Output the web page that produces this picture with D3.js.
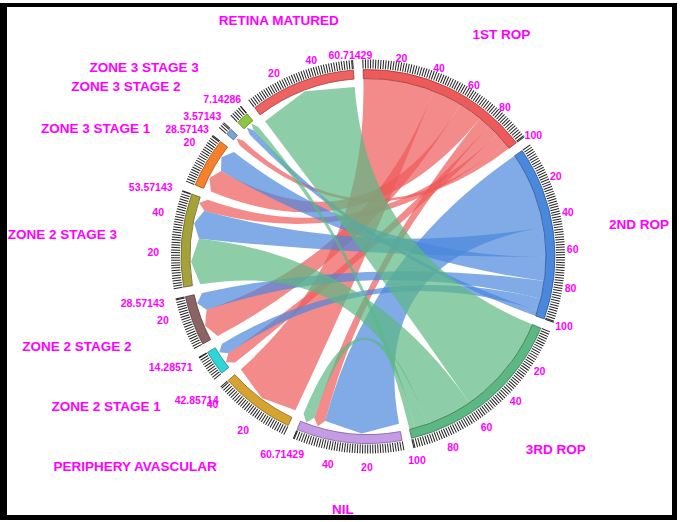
<!DOCTYPE html>
<html>
<head>
<meta charset="utf-8">
<script src="https://cdn.jsdelivr.net/npm/d3@7"></script>
<style>
  body { margin: 0; background: #fff; }
  svg text { font-family: "Liberation Sans", Arial, sans-serif; font-weight: bold; fill: #ff00ff; }
</style>
</head>
<body>
<svg id="chart" width="680" height="522"></svg>
<script>
// groups, clockwise from the top
var groupNames = ["1ST ROP", "2ND ROP", "3RD ROP", "NIL", "PERIPHERY AVASCULAR", "ZONE 2 STAGE 1",
  "ZONE 2 STAGE 2", "ZONE 2 STAGE 3", "ZONE 3 STAGE 1", "ZONE 3 STAGE 2", "ZONE 3 STAGE 3", "RETINA MATURED"];
var groupColors = ["#ee5a5a", "#4a88dd", "#5cb883", "#c59be6", "#d4a330", "#30d5d8",
  "#8b6363", "#a5a23a", "#f7812b", "#7ba3d4", "#8dc640", "#ef6262"];

// % of eyes per finding at each ROP visit
// order: NIL, PA, Z2S1, Z2S2, Z2S3, Z3S1, Z3S2, Z3S3, RETINA MATURED
var rop1 = [7.1428571, 42.8571429, 7.1428571, 17.8571429, 7.1428571, 14.2857143, 3.5714286, 0, 0];
var rop2 = [46.4285714, 0, 7.1428571, 10.7142857, 17.8571429, 14.2857143, 0, 3.5714286, 0];
var rop3 = [7.1428571, 0, 0, 0, 28.5714286, 0, 0, 3.5714286, 60.7142857];

var tickStep = 1.4;
var labelStep = 20;

var svg = d3.select("#chart");
var cx = 368, cy = 256.5;
var outerR = 187, innerR = 178;
var pad = 3 * Math.PI / 180;

// square matrix, ROP <-> finding
var matrix = groupNames.map(function () { return groupNames.map(function () { return 0; }); });
[rop1, rop2, rop3].forEach(function (row, r) {
  row.forEach(function (v, z) {
    matrix[r][z + 3] = v;
    matrix[z + 3][r] = v;
  });
});

var layout = d3.chord().padAngle(pad).sortSubgroups(d3.descending)(matrix);

// gap between last and first group centred on 12 o'clock
var rot = -pad / 2;
function turn(d) {
  return Object.assign({}, d, { startAngle: d.startAngle + rot, endAngle: d.endAngle + rot });
}
var groups = layout.groups.map(turn);
var links = layout.map(function (c) {
  var a = c.source.index < 3 ? c.source : c.target;
  var b = a === c.source ? c.target : c.source;
  return { source: turn(a), target: turn(b) };
});

var g = svg.append("g").attr("transform", "translate(" + cx + "," + cy + ")");

// ribbons, arrow head on the finding side
var ribbon = d3.ribbonArrow().sourceRadius(innerR).targetRadius(innerR - 1).headRadius(7);
g.append("g")
  .selectAll("path")
  .data(links)
  .join("path")
  .attr("d", ribbon)
  .attr("fill", function (d) { return groupColors[d.source.index]; })
  .attr("fill-opacity", 0.7);

// group arcs
var arc = d3.arc().innerRadius(innerR).outerRadius(outerR);
g.append("g")
  .selectAll("path")
  .data(groups)
  .join("path")
  .attr("d", arc)
  .attr("fill", function (d) { return groupColors[d.index]; })
  .attr("stroke", function (d) { return d3.rgb(groupColors[d.index]).darker(1.3); })
  .attr("stroke-width", 0.8);

var ticks = [];
var tickLabels = [];
groups.forEach(function (d) {
  var k = (d.endAngle - d.startAngle) / d.value;
  d3.range(0, d.value, tickStep).forEach(function (v) {
    ticks.push({ angle: d.startAngle + v * k });
  });
  ticks.push({ angle: d.endAngle });
  d3.range(labelStep, d.value, labelStep).forEach(function (v) {
    if (d.value - v >= 1) tickLabels.push({ text: String(v), angle: d.startAngle + v * k });
  });
  tickLabels.push({ text: String(+d.value.toFixed(5)), angle: d.endAngle });
});

g.append("g")
  .selectAll("line")
  .data(ticks)
  .join("line")
  .attr("transform", function (d) { return "rotate(" + (d.angle * 180 / Math.PI - 90) + ") translate(" + (outerR + 1) + ",0)"; })
  .attr("x2", 9)
  .attr("stroke", "#222")
  .attr("stroke-width", 1);

// horizontal text round the circle
function placeText(sel, radius, size) {
  sel.each(function (d) {
    var s = Math.sin(d.angle), c = Math.cos(d.angle);
    var r = radius(s);
    var w = this.getComputedTextLength();
    var x = r * s - w * (1 - s) / 2;
    var y = -r * c + size * 0.8 * Math.max(0, -c);
    d3.select(this).attr("x", x).attr("y", y);
  });
}

g.append("g")
  .selectAll("text")
  .data(tickLabels)
  .join("text")
  .style("font-size", "10.5px")
  .attr("dominant-baseline", "central")
  .text(function (d) { return d.text; })
  .call(placeText, function (s) { return 202 + 7 * Math.max(0, -s) - 3 * Math.max(0, s); }, 10.5);

// group names
g.append("g")
  .selectAll("text")
  .data(groups)
  .join("text")
  .style("font-size", "13.5px")
  .attr("dominant-baseline", "central")
  .text(function (d) { return groupNames[d.index]; })
  .each(function (d) {
    var a = (d.startAngle + d.endAngle) / 2;
    var s = Math.sin(a), c = Math.cos(a);
    var anchor = s > 0.4 ? "start" : s < -0.4 ? "end" : "middle";
    var r = anchor === "start" ? 243 : anchor === "end" ? 252 : (c > 0 ? 250 : 244);
    d3.select(this)
      .attr("text-anchor", anchor)
      .attr("x", r * s)
      .attr("y", -r * c + 13.5 * 0.8 * Math.max(0, -c) - 3 * Math.max(0, c));
  });

// frame
svg.append("path")
  .attr("fill", "#000")
  .attr("fill-rule", "evenodd")
  .attr("d", "M0,3H677V520H0Z M7,7V515H672V7Z");
</script>
</body>
</html>
